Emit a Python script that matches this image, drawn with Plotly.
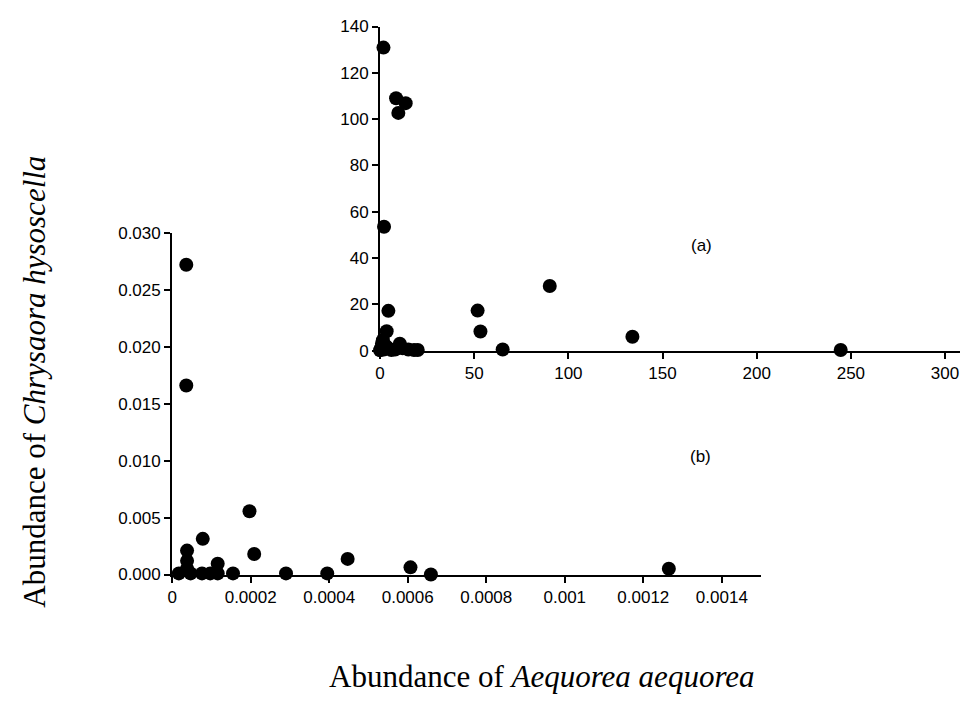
import plotly.graph_objects as go

# ---- Panel (a) data ----
a_x = [1.8, 8.5, 9.7, 13.6, 2.1, 4.4, 3.5, 0.0, 0.5, 1.0, 1.5, 2.0, 3.0, 4.5, 6.0, 8.0, 10.5, 12.0, 15.0, 18.0, 20.0,
       51.8, 53.3, 65.1, 90.1, 134.0, 244.6]
a_y = [130.9, 109.0, 102.7, 106.9, 53.5, 17.2, 8.4, 0.2, 1.0, 3.0, 4.5, 0.5, 2.0, 1.0, 0.3, 0.5, 3.0, 1.0, 0.5, 0.3, 0.3,
       17.3, 8.3, 0.5, 27.9, 6.0, 0.3]

# ---- Panel (b) data ----
b_x = [0.000036, 0.000036, 0.000197, 0.000078, 0.000209, 0.000038, 0.000038, 0.000038, 0.000116, 0.000116,
       0.000155, 0.00029, 0.000017, 0.000047, 0.000076, 0.000097, 0.000395, 0.000447, 0.000607, 0.000659, 0.001265]
b_y = [0.0272, 0.0166, 0.00556, 0.00313, 0.0018, 0.0021, 0.0012, 0.0005, 0.00094, 0.0001,
       0.0001, 0.0001, 0.0001, 0.0001, 0.0001, 0.0001, 0.0001, 0.00137, 0.00063, 0.0, 0.0005]

a_xticks = [0, 50, 100, 150, 200, 250, 300]
a_yticks = [0, 20, 40, 60, 80, 100, 120, 140]
b_xticks = [0, 0.0002, 0.0004, 0.0006, 0.0008, 0.001, 0.0012, 0.0014]
b_xticktext = ["0", "0.0002", "0.0004", "0.0006", "0.0008", "0.001", "0.0012", "0.0014"]
b_yticks = [0, 0.005, 0.010, 0.015, 0.020, 0.025, 0.030]

W, H = 979, 713

def xd(p0, p1):
    return [p0 / W, p1 / W]

def yd(top, bottom):
    return [(H - bottom) / H, (H - top) / H]

fig = go.Figure()
marker = dict(color="black", size=14, line=dict(width=0))
fig.add_trace(go.Scatter(x=b_x, y=b_y, mode="markers", marker=marker, xaxis="x", yaxis="y",
                         cliponaxis=False, showlegend=False))
fig.add_trace(go.Scatter(x=a_x, y=a_y, mode="markers", marker=marker, xaxis="x2", yaxis="y2",
                         cliponaxis=False, showlegend=False))

tickfont = dict(family="Liberation Sans, Arial, sans-serif", size=17, color="black")
axcommon = dict(showline=True, linecolor="black", linewidth=2, ticks="outside", ticklen=6,
                tickwidth=1.5, tickcolor="black", showgrid=False, zeroline=False, tickfont=tickfont)

fig.update_layout(
    width=W, height=H,
    margin=dict(l=0, r=0, t=0, b=0),
    paper_bgcolor="white", plot_bgcolor="rgba(0,0,0,0)",
    xaxis=dict(domain=xd(168, 760), range=[0, 0.0015], tickvals=b_xticks, ticktext=b_xticktext,
               anchor="y", **axcommon),
    yaxis=dict(domain=yd(230, 581), range=[0, 0.030], tickvals=b_yticks, tickformat=".3f",
               anchor="x", **axcommon),
    xaxis2=dict(domain=xd(377, 960), range=[0, 308], tickvals=a_xticks, anchor="y2", **axcommon),
    yaxis2=dict(domain=yd(18, 351), range=[0, 140], tickvals=a_yticks, anchor="x2", **axcommon),
)

serif = dict(family="Liberation Serif, Times New Roman, serif", size=31, color="black")
fig.add_annotation(text="Abundance of <i>Aequorea aequorea</i>", x=540 / W, y=(H - 686) / H,
                   xref="paper", yref="paper", showarrow=False, font=serif, xanchor="center", yanchor="middle")
fig.add_annotation(text="Abundance of <i>Chrysaora hysoscella</i>", x=30 / W, y=(H - 383) / H,
                   xref="paper", yref="paper", showarrow=False, font=serif, textangle=-90,
                   xanchor="center", yanchor="middle")
lab = dict(family="Liberation Sans, Arial, sans-serif", size=17, color="black")
fig.add_annotation(text="(a)", x=713 / W, y=(H - 243) / H, xref="paper", yref="paper",
                   showarrow=False, font=lab)
fig.add_annotation(text="(b)", x=712 / W, y=(H - 460) / H, xref="paper", yref="paper",
                   showarrow=False, font=lab)

fig.write_html("out.html")
